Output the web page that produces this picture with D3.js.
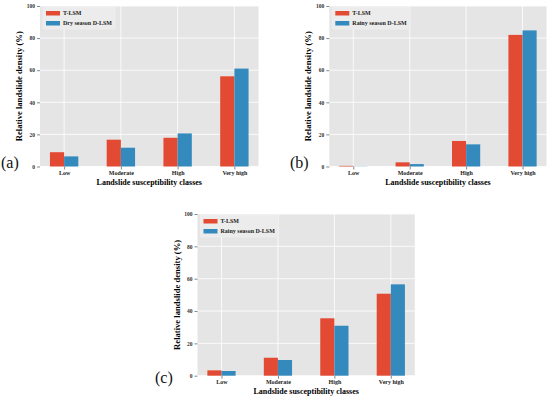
<!DOCTYPE html>
<html>
<head>
<meta charset="utf-8">
<script src="https://cdn.jsdelivr.net/npm/d3@7"></script>
<style>
  body { margin: 0; background: #fff; }
  svg { display: block; }
  text { font-family: "Liberation Serif", "Times New Roman", serif; }
</style>
</head>
<body>
<div id="chart"></div>
<script>
// data
const classes = ["Low", "Moderate", "High", "Very high"]
const yTicks = [0, 20, 40, 60, 80, 100]

const tlsmA = [8.9, 16.7, 17.9, 56.2]
const dryA = [6.3, 11.7, 20.6, 61.0]

const tlsmB = [0.4, 2.6, 15.9, 82.0]
const rainyB = [0.1, 1.5, 13.8, 84.8]

const tlsmC = [3.3, 11.1, 35.5, 50.7]
const rainyC = [2.9, 9.7, 30.9, 56.5]

const red = "#E24A33"
const blue = "#348ABD"

const svg = d3.select("#chart").append("svg")
  .attr("width", 550)
  .attr("height", 399)

function panel(opt) {
  const {left, right, top, bottom, s1, s2, name2, tag, tagX, tagY} = opt
  const g = svg.append("g")

  const x = d3.scaleLinear().domain([-0.425, 3.425]).range([left, right])
  const y = d3.scaleLinear().domain([0, 100]).range([bottom, top])
  const bw = x(0.25) - x(0)

  g.append("rect")
    .attr("x", left).attr("y", top)
    .attr("width", right - left).attr("height", bottom - top)
    .attr("fill", "#e5e5e5")

  // grid
  g.selectAll(".hg").data(yTicks).enter().append("line")
    .attr("x1", left).attr("x2", right)
    .attr("y1", d => y(d)).attr("y2", d => y(d))
    .attr("stroke", "#fff").attr("stroke-width", 0.8)
  g.selectAll(".vg").data(classes).enter().append("line")
    .attr("x1", (d, i) => x(i)).attr("x2", (d, i) => x(i))
    .attr("y1", top).attr("y2", bottom)
    .attr("stroke", "#fff").attr("stroke-width", 0.8)

  // bars
  g.selectAll(".b1").data(s1).enter().append("rect")
    .attr("x", (d, i) => x(i) - bw)
    .attr("y", d => y(d))
    .attr("width", bw)
    .attr("height", d => y(0) - y(d))
    .attr("fill", red)
  g.selectAll(".b2").data(s2).enter().append("rect")
    .attr("x", (d, i) => x(i))
    .attr("y", d => y(d))
    .attr("width", bw)
    .attr("height", d => y(0) - y(d))
    .attr("fill", blue)

  // axes
  const ya = d3.axisLeft(y).tickValues(yTicks).tickSize(3).tickPadding(2)
  g.append("g").attr("transform", `translate(${left},0)`).call(ya)
    .call(a => a.select(".domain").remove())
    .call(a => a.selectAll("line").attr("stroke", "#888"))
    .call(a => a.selectAll("text").attr("font-size", 5.5).attr("font-weight", "bold")
      .attr("fill", "#333").style("font-family", "Liberation Serif"))

  const xa = d3.axisBottom(x).tickValues([0, 1, 2, 3]).tickFormat(i => classes[i]).tickSize(3).tickPadding(1.5)
  g.append("g").attr("transform", `translate(0,${bottom})`).call(xa)
    .call(a => a.select(".domain").remove())
    .call(a => a.selectAll("line").attr("stroke", "#888"))
    .call(a => a.selectAll("text").attr("font-size", 6).attr("font-weight", "bold")
      .attr("fill", "#222").style("font-family", "Liberation Serif"))

  g.append("text")
    .attr("x", (left + right) / 2).attr("y", bottom + 18.5)
    .attr("text-anchor", "middle")
    .attr("font-size", 8).attr("font-weight", "bold")
    .text("Landslide susceptibility classes")

  g.append("text")
    .attr("transform", `translate(${left - 18},${(top + bottom) / 2}) rotate(-90)`)
    .attr("text-anchor", "middle")
    .attr("font-size", 8.6).attr("font-weight", "bold")
    .text("Relative landslide density (%)")

  // legend
  const lg = g.append("g").attr("transform", `translate(${left + 3},${top + 1})`)
  const lw = name2.length > 16 ? 78 : 72
  lg.append("rect").attr("width", lw).attr("height", 22)
    .attr("fill", "#ececec").attr("stroke", "#f2f2f2").attr("stroke-width", 0.6).attr("rx", 1)
  ;[[red, "T-LSM"], [blue, name2]].forEach((it, k) => {
    lg.append("rect").attr("x", 3).attr("y", 4 + k * 10)
      .attr("width", 14).attr("height", 4.5).attr("fill", it[0])
    lg.append("text").attr("x", 20).attr("y", 8.3 + k * 10)
      .attr("font-size", 6).attr("font-weight", "bold").attr("fill", "#222")
      .text(it[1])
  })

  svg.append("text").attr("x", tagX).attr("y", tagY)
    .attr("font-size", 16).attr("fill", "#111")
    .text(tag)
}

panel({left: 40, right: 258.5, top: 6, bottom: 166.5, s1: tlsmA, s2: dryA,
  name2: "Dry season D-LSM", tag: "(a)", tagX: 1, tagY: 168})
panel({left: 329.3, right: 546.5, top: 6, bottom: 166.5, s1: tlsmB, s2: rainyB,
  name2: "Rainy season D-LSM", tag: "(b)", tagX: 290, tagY: 168})
panel({left: 197.5, right: 414.8, top: 214, bottom: 375.7, s1: tlsmC, s2: rainyC,
  name2: "Rainy season D-LSM", tag: "(c)", tagX: 155, tagY: 383})
</script>
</body>
</html>
